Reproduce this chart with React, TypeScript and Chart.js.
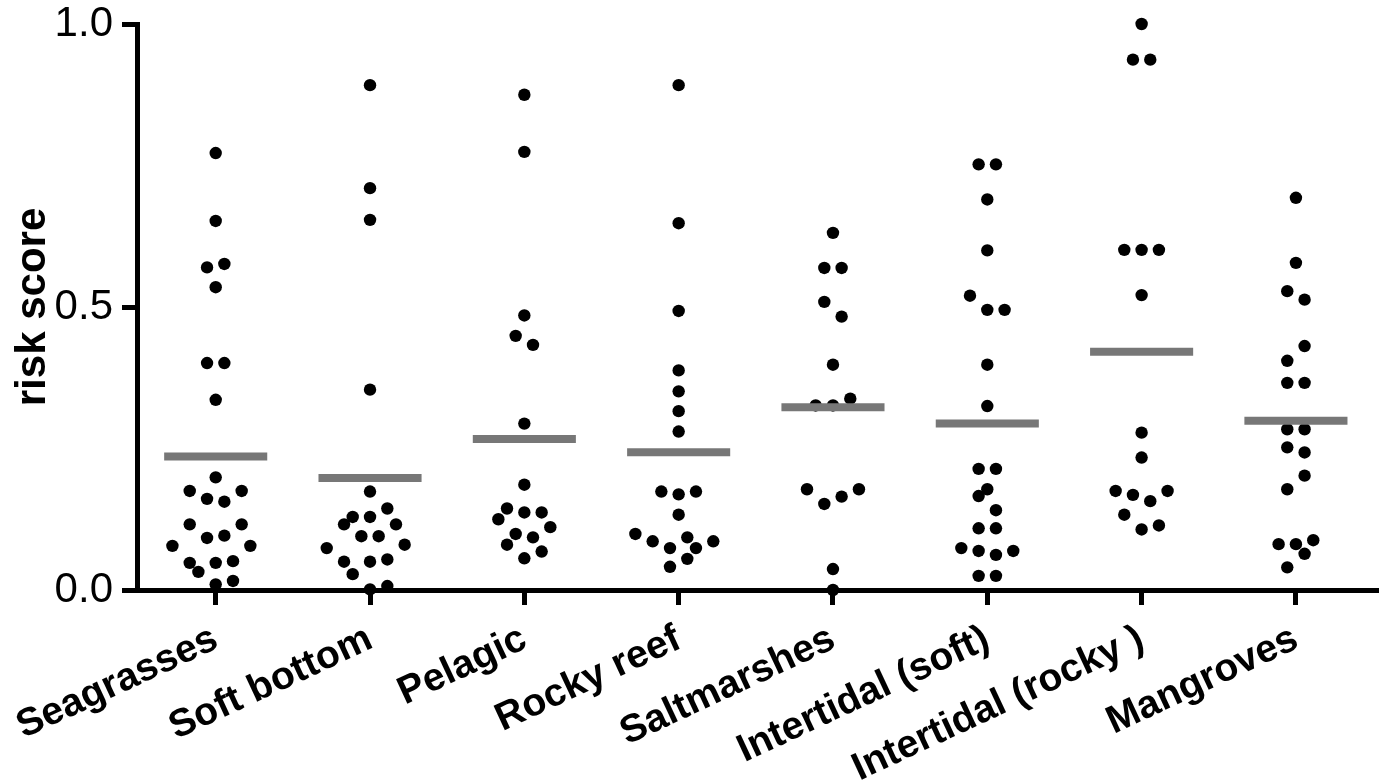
import React, { useEffect, useRef } from 'react';
import { Chart, registerables } from 'chart.js';

Chart.register(...registerables);

const categories = [
  'Seagrasses',
  'Soft bottom',
  'Pelagic',
  'Rocky reef',
  'Saltmarshes',
  'Intertidal (soft)',
  'Intertidal (rocky )',
  'Mangroves',
];

// risk scores per habitat
const seagrasses = [0.772, 0.652, 0.576, 0.570, 0.535, 0.401, 0.401, 0.336, 0.199, 0.175, 0.175, 0.161, 0.156, 0.116, 0.116, 0.092, 0.096, 0.078, 0.078, 0.048, 0.048, 0.051, 0.032, 0.010, 0.016];
const softBottom = [0.892, 0.710, 0.654, 0.354, 0.174, 0.144, 0.129, 0.129, 0.116, 0.116, 0.095, 0.095, 0.074, 0.080, 0.050, 0.050, 0.054, 0.028, 0.001, 0.007];
const pelagic = [0.875, 0.774, 0.485, 0.449, 0.433, 0.294, 0.186, 0.144, 0.137, 0.137, 0.125, 0.111, 0.099, 0.093, 0.080, 0.068, 0.056];
const rockyReef = [0.892, 0.648, 0.493, 0.388, 0.351, 0.316, 0.280, 0.174, 0.169, 0.174, 0.133, 0.099, 0.086, 0.093, 0.074, 0.074, 0.086, 0.055, 0.041];
const saltmarshes = [0.631, 0.569, 0.569, 0.509, 0.483, 0.398, 0.326, 0.326, 0.338, 0.178, 0.152, 0.165, 0.178, 0.037, 0.0];
const intertidalSoft = [0.752, 0.752, 0.690, 0.600, 0.520, 0.495, 0.495, 0.398, 0.325, 0.214, 0.214, 0.178, 0.166, 0.141, 0.109, 0.109, 0.074, 0.069, 0.062, 0.069, 0.025, 0.025];
const intertidalRocky = [1.0, 0.937, 0.937, 0.601, 0.601, 0.601, 0.521, 0.278, 0.234, 0.175, 0.168, 0.157, 0.175, 0.133, 0.107, 0.114];
const mangroves = [0.693, 0.578, 0.528, 0.513, 0.431, 0.405, 0.366, 0.366, 0.284, 0.284, 0.252, 0.243, 0.202, 0.178, 0.081, 0.081, 0.088, 0.064, 0.040];

// horizontal scatter slot of each point (in dot half-spacings)
const seagrassesJitter = [0, 0, 1, -1, 0, -1, 1, 0, 0, -3, 3, -1, 1, -3, 3, -1, 1, -5, 4, -3, 0, 2, -2, 0, 2];
const softBottomJitter = [0, 0, 0, 0, 0, 2, -2, 0, -3, 3, -1, 1, -5, 4, -3, 0, 2, -2, 0, 2];
const pelagicJitter = [0, 0, 0, -1, 1, 0, 0, -2, 0, 2, -3, 3, -1, 1, -2, 2, 0];
const rockyReefJitter = [0, 0, 0, 0, 0, 0, 0, -2, 0, 2, 0, -5, -3, 1, -1, 2, 4, 1, -1];
const saltmarshesJitter = [0, -1, 1, -1, 1, 0, -2, 0, 2, -3, -1, 1, 3, 0, 0];
const intertidalSoftJitter = [-1, 1, 0, 0, -2, 0, 2, 0, 0, -1, 1, 0, -1, 1, -1, 1, -3, -1, 1, 3, -1, 1];
const intertidalRockyJitter = [0, -1, 1, -2, 0, 2, 0, 0, 0, -3, -1, 1, 3, -2, 0, 2];
const mangrovesJitter = [0, 0, -1, 1, 1, -1, -1, 1, -1, 1, -1, 1, 1, -1, -2, 0, 2, 1, -1];

// mean line per habitat
const means = [0.236, 0.198, 0.267, 0.2435, 0.323, 0.294, 0.421, 0.299];

const yTicks = [0, 0.5, 1.0];

const groups = [seagrasses, softBottom, pelagic, rockyReef, saltmarshes, intertidalSoft, intertidalRocky, mangroves];
const jitters = [seagrassesJitter, softBottomJitter, pelagicJitter, rockyReefJitter, saltmarshesJitter, intertidalSoftJitter, intertidalRockyJitter, mangrovesJitter];

const JITTER_STEP = 0.0561;
const MEAN_HALF = 0.334;
const FONT = '"Liberation Sans", Arial, Helvetica, sans-serif';

export default function App() {
  const ref = useRef<HTMLCanvasElement | null>(null);

  useEffect(() => {
    if (!ref.current) return;
    const points = groups.flatMap((vals, i) =>
      vals.map((v, j) => ({ x: i + jitters[i][j] * JITTER_STEP, y: v }))
    );
    const meanSets = means.map((m, i) => ({
      data: [
        { x: i - MEAN_HALF, y: m },
        { x: i + MEAN_HALF, y: m },
      ],
      showLine: true,
      borderColor: '#777777',
      borderWidth: 8,
      borderCapStyle: 'butt' as const,
      pointRadius: 0,
      pointHoverRadius: 0,
      order: 0,
      clip: false as const,
    }));

    const chart = new Chart(ref.current, {
      type: 'scatter',
      data: {
        datasets: [
          ...meanSets,
          {
            data: points,
            backgroundColor: '#000000',
            borderWidth: 0,
            pointRadius: 6.2,
            pointHoverRadius: 6.2,
            order: 1,
            clip: false as const,
          },
        ],
      },
      options: {
        animation: false,
        responsive: false,
        devicePixelRatio: 1,
        layout: { padding: { top: 24, right: 5, left: 0, bottom: 0 } },
        plugins: {
          legend: { display: false },
          tooltip: { enabled: false },
        },
        events: [],
        scales: {
          x: {
            type: 'linear',
            min: -0.51,
            max: 7.537,
            afterBuildTicks: (s: any) => {
              s.ticks = categories.map((_, i) => ({ value: i }));
            },
            afterFit: (s: any) => {
              s.height = 190;
              s.paddingLeft = 0;
              s.paddingRight = 0;
            },
            ticks: {
              autoSkip: false,
              minRotation: 25,
              maxRotation: 25,
              padding: 11,
              color: '#000000',
              font: { family: FONT, size: 39, weight: 'bold' },
              callback: (v: any) => categories[Math.round(Number(v))] ?? '',
            },
            grid: {
              drawOnChartArea: false,
              drawTicks: true,
              tickLength: 15,
              tickWidth: 5,
              tickColor: '#000000',
            },
            border: { display: true, color: '#000000', width: 5 },
          },
          y: {
            type: 'linear',
            min: 0,
            max: 1,
            afterBuildTicks: (s: any) => {
              s.ticks = yTicks.map((v) => ({ value: v }));
            },
            afterFit: (s: any) => {
              s.width = 137;
              s.paddingTop = 0;
              s.paddingBottom = 0;
            },
            ticks: {
              padding: 9,
              color: '#000000',
              font: { family: FONT, size: 42 },
              callback: (v: any) => Number(v).toFixed(1),
            },
            grid: {
              drawOnChartArea: false,
              drawTicks: true,
              tickLength: 15,
              tickWidth: 5,
              tickColor: '#000000',
            },
            border: { display: true, color: '#000000', width: 5 },
            title: {
              display: true,
              text: 'risk score',
              color: '#000000',
              font: { family: FONT, size: 42, weight: 'bold' },
              padding: { top: 8, bottom: 0 },
            },
          },
        },
      },
    } as any);

    return () => chart.destroy();
  }, []);

  return (
    <div style={{ position: 'absolute', left: 0, top: 0, width: 1385, height: 780, background: '#ffffff' }}>
      <canvas ref={ref} width={1385} height={780} style={{ display: 'block', width: 1385, height: 780 }} />
    </div>
  );
}
